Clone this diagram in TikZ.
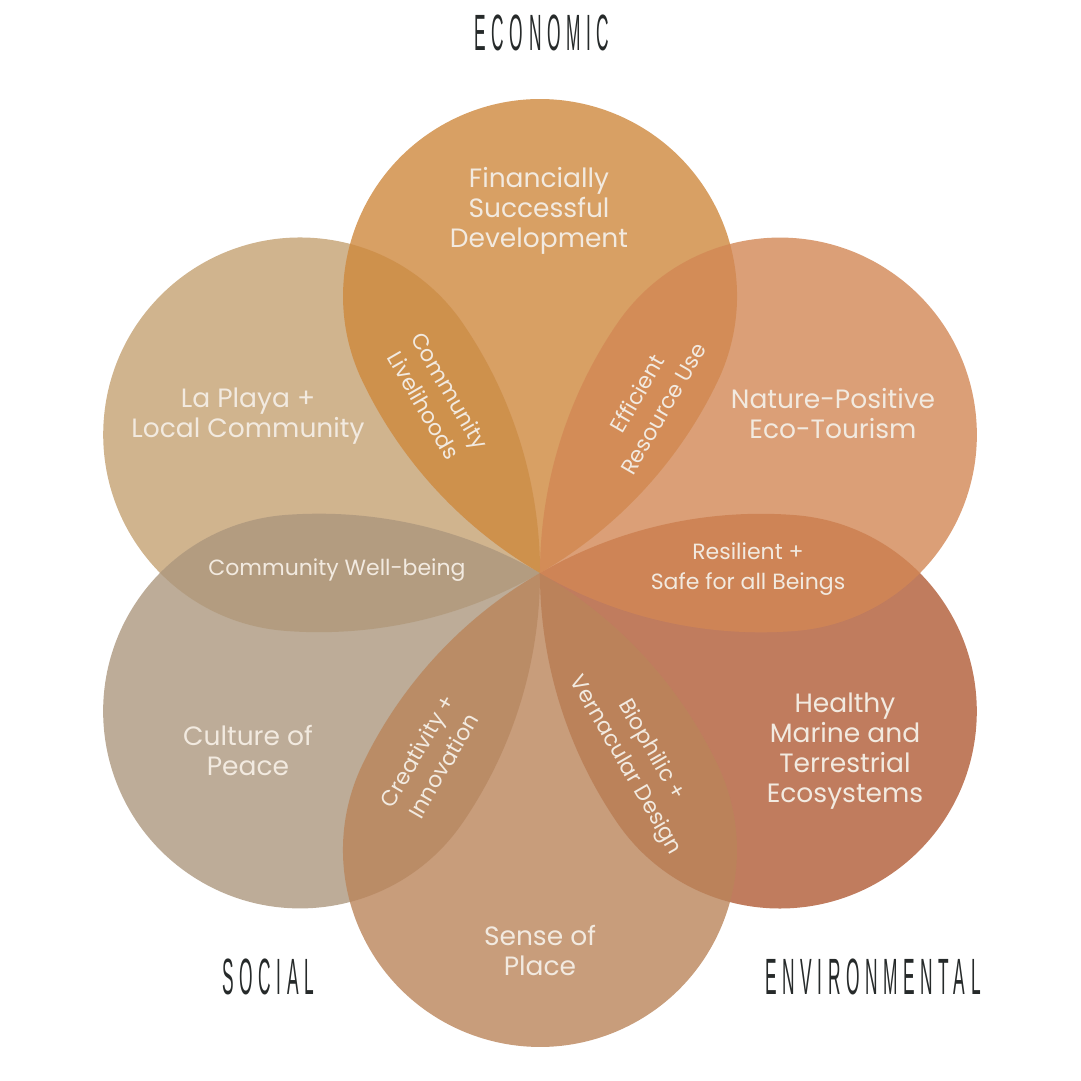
\documentclass[tikz,border=0pt]{standalone}
\usepackage{fontspec}
\setmainfont{Poppins}
\newfontfamily\TitleFont[FakeStretch=0.34,LetterSpace=11]{Liberation Sans}
\definecolor{SocialClr}{RGB}{196,161,114}
\definecolor{PeaceClr}{RGB}{172,151,126}
\definecolor{MarineClr}{RGB}{176,91,54}
\definecolor{PlaceClr}{RGB}{186,132,90}
\definecolor{EconClr}{RGB}{206,136,61}
\definecolor{NatureClr}{RGB}{210,135,85}
\definecolor{TxtClr}{RGB}{242,234,224}
\definecolor{TitleClr}{RGB}{38,42,42}

\begin{document}
\begin{tikzpicture}[x=1pt,y=1pt,
  MainTxt/.style={text=TxtClr,align=center,inner sep=0pt,font=\fontsize{26.5}{30}\selectfont},
  LensTxt/.style={text=TxtClr,align=center,inner sep=0pt,font=\fontsize{22}{30}\selectfont},
  TitleTxt/.style={text=TitleClr,inner sep=0pt,font=\TitleFont\fontsize{51}{51}\selectfont}]
\useasboundingbox (0,0) rectangle (1080,1081);
\coordinate (O) at (540,508);

\foreach \ang/\clr in {150/SocialClr,210/PeaceClr,330/MarineClr,270/PlaceClr,90/EconClr,30/NatureClr}{
  \fill[\clr,fill opacity=.8,shift={(O)},rotate=\ang-90]
    (0,0) arc[start angle=240,end angle=205.6,radius=442pt]
          arc[start angle=205.6,end angle=-25.6,radius=197pt]
          arc[start angle=-25.6,end angle=-60,radius=442pt] -- cycle;
}

\node[MainTxt] (econ) at (539,870) {Financially\\Successful\\Development};
\node[MainTxt] (local) at (248,665) {La Playa +\\Local Community};
\node[MainTxt] (nature) at (833,667) {Nature-Positive\\Eco-Tourism};
\node[MainTxt] (marine) at (845,330) {Healthy\\Marine and\\Terrestrial\\Ecosystems};
\node[MainTxt] (peace) at (248,330) {Culture of\\Peace};
\node[MainTxt] (place) at (540,131) {Sense of\\Place};

\node[LensTxt] (wellbeing) at (337,511) {Community Well-being};
\node[LensTxt] (resilient) at (748,512) {Resilient +\\Safe for all Beings};
\node[LensTxt,rotate=-60] (livelihood) at (437,683) {Community\\Livelihoods};
\node[LensTxt,rotate=60] (efficient) at (650,680) {Efficient\\Resource Use};
\node[LensTxt,rotate=-60] (biophilic) at (638,323) {Biophilic +\\Vernacular Design};
\node[LensTxt,rotate=60] (creativity) at (430,323) {Creativity +\\Innovation};

\node[TitleTxt] (economic) at (542,1048) {ECONOMIC};
\node[TitleTxt] (social) at (268,104) {SOCIAL};
\node[TitleTxt] (environmental) at (873,104) {ENVIRONMENTAL};

\end{tikzpicture}
\end{document}
